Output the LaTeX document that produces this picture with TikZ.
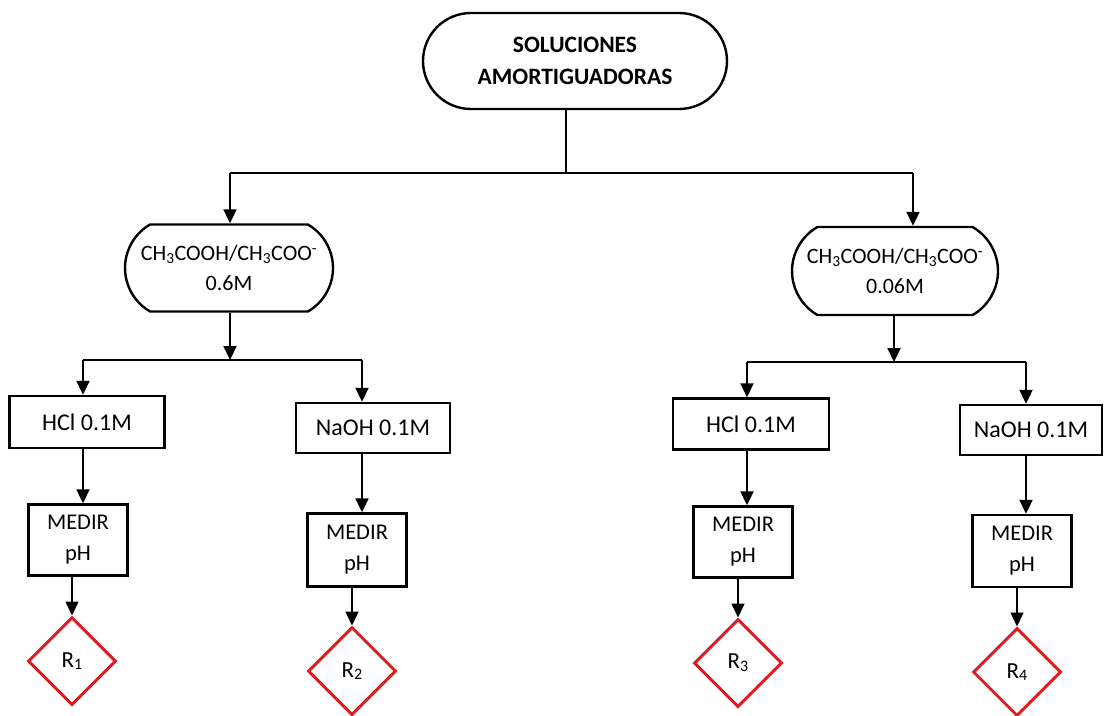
\documentclass[tikz,border=0pt]{standalone}
\usepackage{fontspec}
\setmainfont{Carlito}
\usetikzlibrary{shapes.misc,shapes.geometric,arrows.meta}
\definecolor{resred}{RGB}{222,30,36}
% lowered index digit, a little larger than \textsubscript
\newcommand{\idx}[1]{\raisebox{-0.12em}{\fontsize{16}{16}\selectfont #1}}
\begin{document}
\begin{tikzpicture}[x=1pt,y=-1pt,
  pill/.style={draw, line width=2.4pt, rounded rectangle, inner sep=0pt, align=center},
  box/.style={draw, line width=2.4pt, rectangle, inner sep=0pt, align=center},
  hbox/.style={box, font=\fontsize{24}{28}\selectfont},
  mbox/.style={box, minimum width=99pt, font=\fontsize{22.5}{31}\selectfont},
  res/.style={draw=resred, line width=3pt, diamond, aspect=1, inner sep=0pt,
              minimum width=88pt, minimum height=88pt, font=\fontsize{23}{25}\selectfont},
  link/.style={line width=2pt},
  arr/.style={line width=2pt, -{Triangle[width=13pt,length=14pt]}},
  thinarr/.style={line width=1.6pt, -{Triangle[width=13pt,length=14pt]}},
]
\useasboundingbox (0,0) rectangle (1105,715);

% title
\node[pill, rounded rectangle arc length=180, minimum width=304pt, minimum height=96pt,
      font=\bfseries\fontsize{23.5}{32}\selectfont] (top) at (575,61)
      {SOLUCIONES\\AMORTIGUADORAS};

% buffer solutions
\node[pill, rounded rectangle arc length=120, minimum width=208pt, minimum height=87pt,
      font=\fontsize{22}{30}\selectfont] (cL) at (229,268)
      {CH\textsubscript{3}COOH/CH\textsubscript{3}COO\textsuperscript{-}\\0.6M};
\node[pill, rounded rectangle arc length=120, minimum width=206pt, minimum height=88pt,
      font=\fontsize{22}{30}\selectfont] (cR) at (895,271)
      {CH\textsubscript{3}COOH/CH\textsubscript{3}COO\textsuperscript{-}\\0.06M};

% reagents
\node[hbox, minimum width=155pt, minimum height=52pt] (h1) at (87,422) {HCl 0.1M};
\node[hbox, minimum width=154pt, minimum height=50pt] (n1) at (373,428) {NaOH 0.1M};
\node[hbox, minimum width=156pt, minimum height=51pt] (h2) at (751,424) {HCl 0.1M};
\node[hbox, minimum width=142pt, minimum height=50pt] (n2) at (1031,430) {NaOH 0.1M};

% measurements
\node[mbox, minimum height=71pt] (m1) at (78,540) {MEDIR\\pH};
\node[mbox, minimum height=73pt] (m2) at (357,550) {MEDIR\\pH};
\node[mbox, minimum height=71pt] (m3) at (743,542) {MEDIR\\pH};
\node[mbox, minimum height=72pt] (m4) at (1022,551) {MEDIR\\pH};

% results
\node[res] (d1) at (72,661) {R\idx{1}};
\node[res] (d2) at (352,671) {R\idx{2}};
\node[res] (d3) at (738,663) {R\idx{3}};
\node[res] (d4) at (1017,672) {R\idx{4}};

% junction points
\coordinate (s0) at (566,173);
\coordinate (jL) at (230,173);
\coordinate (jR) at (913,173);
\coordinate (kL) at (230,360);
\coordinate (aL1) at (83,360);
\coordinate (aL2) at (362,360);
\coordinate (kR) at (894,362);
\coordinate (aR1) at (747,362);
\coordinate (aR2) at (1026,362);

% first split
\draw[link] (top.south -| s0) -- (s0);
\draw[link] (jL) -- (jR);
\draw[arr] (jL) -- (jL |- cL.north);
\draw[arr] (jR) -- (jR |- cR.north);

% left branch
\draw[arr] (cL.south -| kL) -- (kL);
\draw[link] (aL1) -- (aL2);
\draw[arr] (aL1) -- (aL1 |- h1.north);
\draw[arr] (aL2) -- (aL2 |- n1.north);
\draw[arr] (aL1 |- h1.south) -- (aL1 |- m1.north);
\draw[arr] (aL2 |- n1.south) -- (aL2 |- m2.north);
\draw[thinarr] (m1.south -| d1) -- (d1.north);
\draw[thinarr] (m2.south -| d2) -- (d2.north);

% right branch
\draw[arr] (cR.south -| kR) -- (kR);
\draw[link] (aR1) -- (aR2);
\draw[arr] (aR1) -- (aR1 |- h2.north);
\draw[arr] (aR2) -- (aR2 |- n2.north);
\draw[arr] (aR1 |- h2.south) -- (aR1 |- m3.north);
\draw[arr] (aR2 |- n2.south) -- (aR2 |- m4.north);
\draw[thinarr] (m3.south -| d3) -- (d3.north);
\draw[thinarr] (m4.south -| d4) -- (d4.north);
\end{tikzpicture}
\end{document}
